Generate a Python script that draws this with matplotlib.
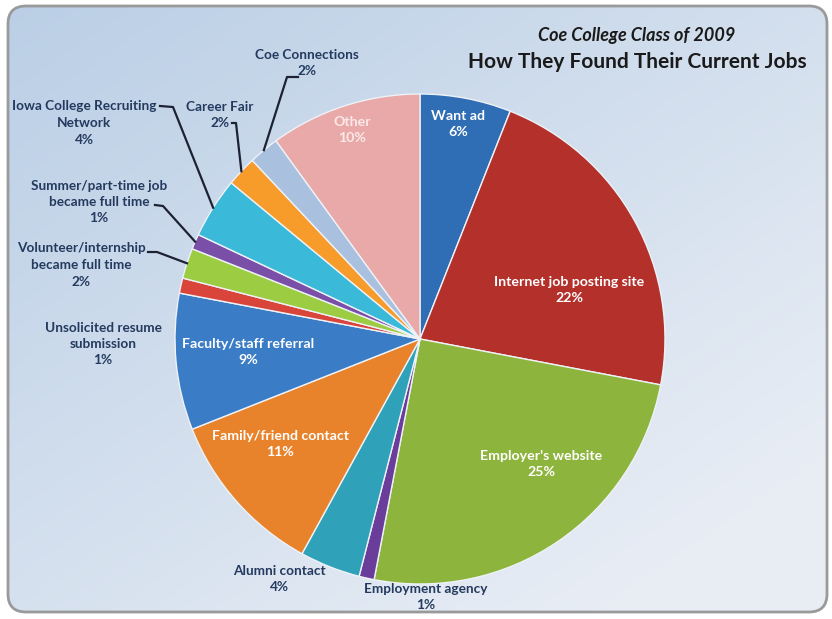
import matplotlib.pyplot as plt
import numpy as np
from matplotlib.patches import FancyBboxPatch

plt.rcParams['font.family'] = ['Lato', 'DejaVu Sans']

# Dados
sources = ["Want ad", "Internet job posting site", "Employer's website",
           "Employment agency", "Alumni contact", "Family/friend contact",
           "Faculty/staff referral", "Unsolicited resume\nsubmission",
           "Volunteer/internship\nbecame full time",
           "Summer/part-time job\nbecame full time",
           "Iowa College Recruiting\nNetwork", "Career Fair",
           "Coe Connections", "Other"]
percents = [6, 22, 25, 1, 4, 11, 9, 1, 2, 1, 4, 2, 2, 10]

colors = ['#2f6db5', '#b3302b', '#8db43c', '#6a3d9a', '#2fa1b9', '#e9832b',
          '#3a7cc6', '#d9453b', '#9ccc42', '#7a4fa8', '#3bb9d9', '#f79b2b',
          '#a9c0df', '#e8a9a8']

W, H = 832, 619
fig = plt.figure(figsize=(W / 100, H / 100), dpi=100)
ax = fig.add_axes([0, 0, 1, 1])

# fundo com gradiente
yy, xx = np.mgrid[0:1:200j, 0:1:200j]
t = np.clip(0.55 * xx + 0.6 * (1 - yy), 0, 1)
c0 = np.array([0.73, 0.81, 0.90])
c1 = np.array([0.91, 0.93, 0.96])
img = c0 * (1 - t[..., None]) + c1 * t[..., None]
im = ax.imshow(img, extent=(8, W - 5, 7, H - 6), origin='lower', zorder=0)
panel = FancyBboxPatch((8, 7), W - 13, H - 13, boxstyle="round,pad=0,rounding_size=18",
                       facecolor='none', edgecolor='#9a9a9a', linewidth=2, zorder=1)
ax.add_patch(panel)
im.set_clip_path(panel)

cx, cy, R = 420, H - 339, 245
wedges, _ = ax.pie(percents, colors=colors, startangle=90, counterclock=False,
                   center=(cx, cy), radius=R, frame=True,
                   wedgeprops=dict(edgecolor='#eef2f7', linewidth=1.0))
for w in wedges:
    w.set_zorder(2)
ax.set_xlim(0, W)
ax.set_ylim(0, H)
ax.axis('off')


def edge(w):
    a = np.deg2rad((w.theta1 + w.theta2) / 2)
    return cx + R * np.cos(a), cy + R * np.sin(a)


# rótulos internos (centro do texto em pixels)
inside = {0: (458, 124), 1: (569, 290), 2: (541, 464), 5: (280, 444),
          6: (248, 352), 13: (352, 130)}
for i, (px, py) in inside.items():
    col = '#fbe9e9' if i == 13 else 'white'
    ax.text(px, H - py, f"{sources[i]}\n{percents[i]}%", ha='center', va='center',
            color=col, fontsize=10.2, fontweight='bold', linespacing=1.5, zorder=3)

# rótulos externos
outside = {
    12: (307, 63), 11: (220, 115), 10: (84, 123), 9: (99, 202),
    8: (81, 265), 7: (103, 344), 4: (279, 579), 3: (426, 597),
}
leaders = {
    12: [(298, 77), (287, 77)], 11: [(232, 123), (236, 123)],
    10: [(160, 106), (173, 107)], 9: [(155, 205), (163, 206)],
    8: [(148, 252), (157, 252)],
}
navy = '#243a5e'
for i, (px, py) in outside.items():
    ax.text(px, H - py, f"{sources[i]}\n{percents[i]}%", ha='center', va='center',
            color=navy, fontsize=9.8, fontweight='bold', linespacing=1.45, zorder=3)
    if i in leaders:
        ex, ey = edge(wedges[i])
        pts = [(x, H - y) for x, y in leaders[i]] + [(ex, ey)]
        xs, ys = zip(*pts)
        ax.plot(xs, ys, color='#1c2233', linewidth=1.6, zorder=3)

# título
ax.text(637, H - 35, "Coe College Class of 2009", ha='center', va='center',
        fontsize=13, fontstyle='italic', fontweight='bold', color='#1a1a1a')
ax.text(637, H - 62, "How They Found Their Current Jobs", ha='center', va='center',
        fontsize=15, fontweight='bold', color='#1a1a1a')

plt.savefig("out.png", dpi=100)
plt.close()
